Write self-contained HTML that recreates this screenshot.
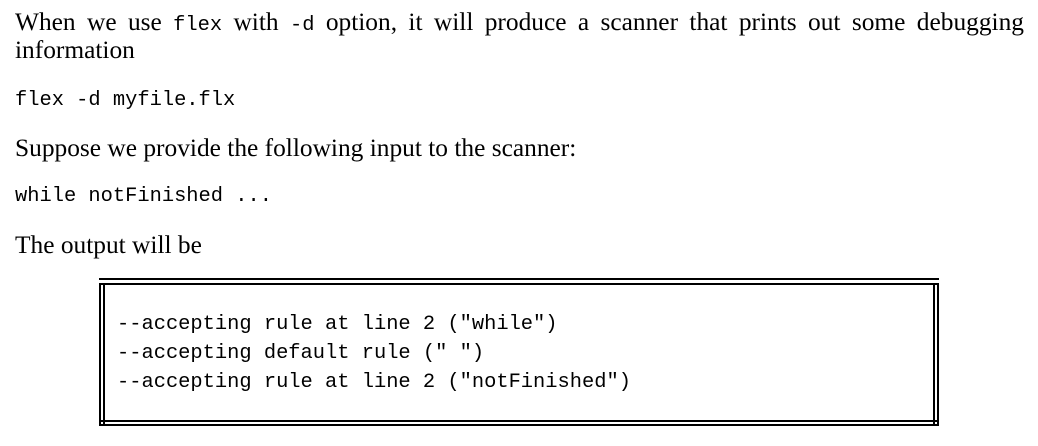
<!DOCTYPE html>
<html><head><meta charset="utf-8"><style>
body{margin:0;width:1038px;height:446px;background:#fff;position:relative;overflow:hidden;font-family:"Liberation Serif",serif;font-size:25.4px;color:#000}
.t{position:absolute;left:15px;white-space:nowrap;line-height:28px}
code,.m{font-family:"Liberation Mono",monospace;font-size:20.4px}
code{line-height:1}
.p1{position:absolute;left:15px;top:8px;width:1009px;text-align:justify;text-align-last:left;line-height:28px}
.h{position:absolute;left:99px;width:840px;height:2px;background:#000}
.v{position:absolute;top:283px;height:142px;width:2px;background:#000}
.c{position:absolute;left:117px;white-space:pre;line-height:28px}
</style></head><body>
<div class="p1">When we use <code>flex</code> with <code>-d</code> option, it will produce a scanner that prints out some debugging information</div>
<div class="t m" style="top:87px">flex -d myfile.flx</div>
<div class="t" style="top:134px">Suppose we provide the following input to the scanner:</div>
<div class="t m" style="top:183px">while notFinished ...</div>
<div class="t" style="top:231px">The output will be</div>
<div>
<div class="h" style="top:278px"></div>
<div class="h" style="top:283px"></div>
<div class="h" style="top:420px"></div>
<div class="h" style="top:424px"></div>
<div class="v" style="left:99px"></div>
<div class="v" style="left:103px"></div>
<div class="v" style="left:933px"></div>
<div class="v" style="left:937px"></div>
<div class="c m" style="top:311px">--accepting rule at line 2 ("while")</div>
<div class="c m" style="top:340px">--accepting default rule (" ")</div>
<div class="c m" style="top:369px">--accepting rule at line 2 ("notFinished")</div>
</div>
</body></html>
